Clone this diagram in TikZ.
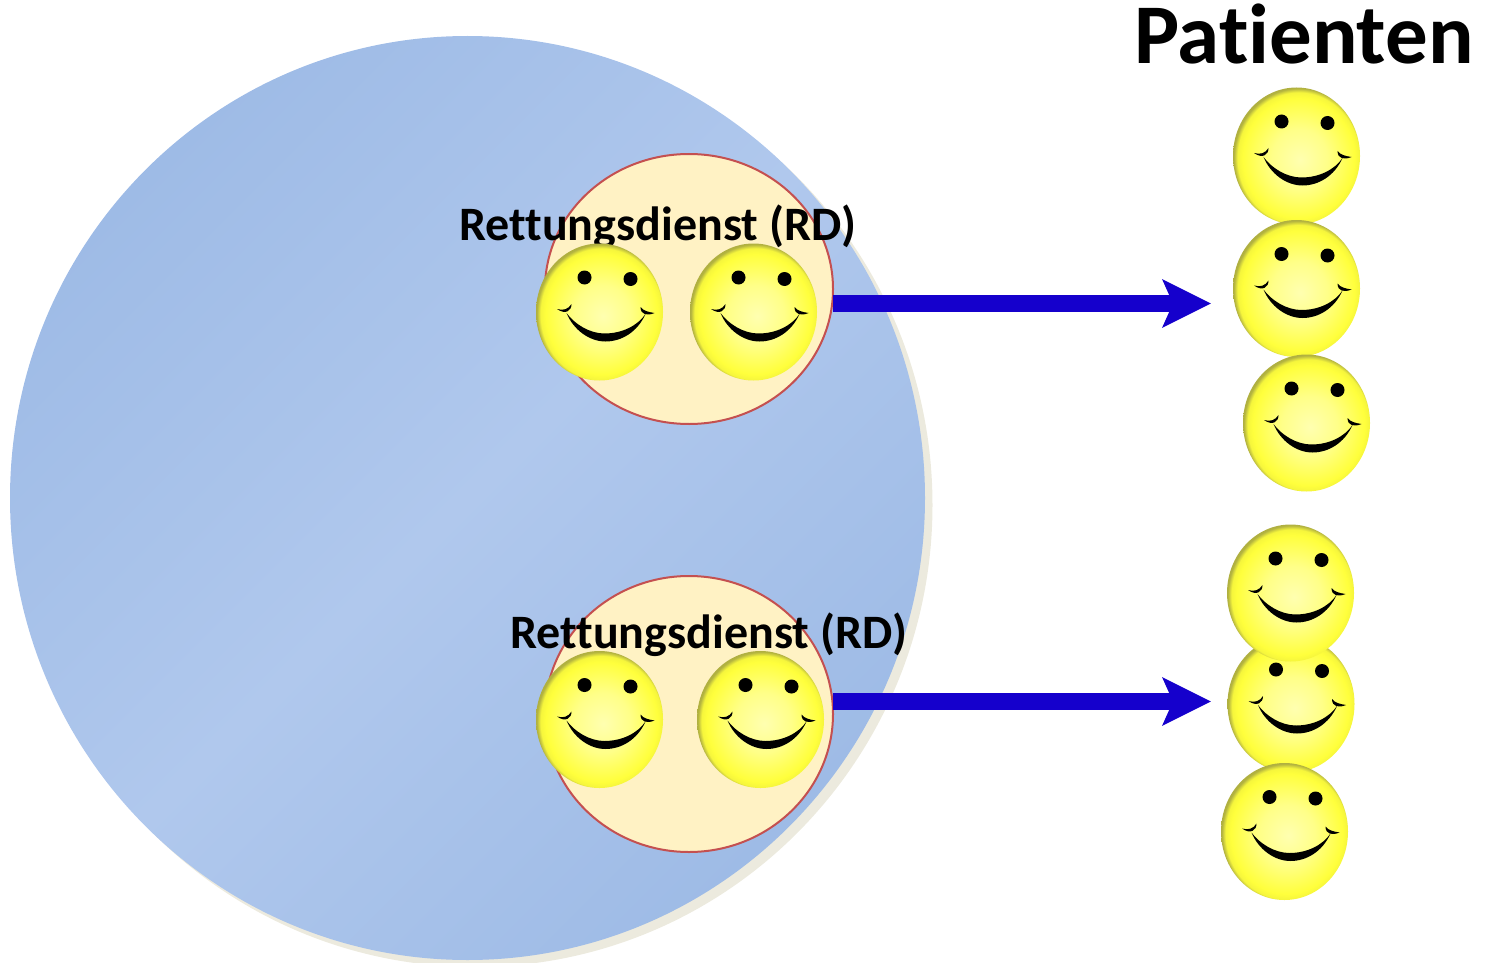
\documentclass[tikz,border=0pt]{standalone}
\usepackage{fontspec}
\setmainfont{Carlito}[RawFeature={-liga;-clig}]
\usetikzlibrary{arrows.meta,shapes.geometric}

\definecolor{kreisdunkel}{RGB}{158,187,230}
\definecolor{kreishell}{RGB}{176,200,237}
\definecolor{kreisschatten}{RGB}{236,234,222}
\definecolor{rdfill}{RGB}{255,242,196}
\definecolor{rdrand}{RGB}{196,80,80}
\definecolor{pfeilblau}{RGB}{21,0,204}
\definecolor{facemitte}{RGB}{255,255,176}
\definecolor{facehell}{RGB}{255,255,136}
\definecolor{facegelb}{RGB}{255,255,60}
\definecolor{facerand}{RGB}{176,176,64}

\pgfdeclareradialshading{faceshade}{\pgfpoint{1.5bp}{-1.5bp}}{
  color(0bp)=(facemitte);
  color(11bp)=(facehell);
  color(22bp)=(facegelb);
  color(24bp)=(facegelb!88!facerand);
  color(25.5bp)=(facerand);
  color(50bp)=(facerand)}

\tikzset{
  bigcircle/.style={ellipse,inner sep=0pt,outer sep=0pt,minimum width=915pt,minimum height=924pt},
  rdcircle/.style={ellipse,inner sep=0pt,outer sep=0pt,minimum width=288pt,fill=rdfill,draw=rdrand,line width=2pt},
  rdlabel/.style={anchor=base west,inner sep=0pt,font=\fontsize{48}{54}\selectfont\bfseries},
  flow/.style={draw=pfeilblau,line width=17pt,-{Stealth[length=48pt,width=47pt,inset=10pt,fill=pfeilblau]}},
  face/.style={ellipse,inner sep=0pt,outer sep=0pt,minimum width=127pt,minimum height=137pt,shading=faceshade,
    path picture={
      \begin{scope}[shift={(path picture bounding box.center)}]
        \fill (-15,-34.5) circle (7);
        \fill (31,-33) circle (7);
        % mouth
        \fill (-33,1) .. controls (-26,18) and (-10,29.5) .. (6,29.5)
          .. controls (22,29.5) and (38,20) .. (46,2)
          .. controls (38,14) and (22,21.5) .. (5,21.5)
          .. controls (-10,21.5) and (-25,12) .. (-33,1) -- cycle;
        % cheeks
        \fill (-42.5,-3) .. controls (-36,-1) and (-31,-3) .. (-28,-8)
          .. controls (-28,-1) and (-34,3) .. (-42.5,-3) -- cycle;
        \fill (41,-5) .. controls (44,-1) and (49,0) .. (55,1)
          .. controls (48,4) and (41,3) .. (41,-5) -- cycle;
      \end{scope}}},
}

\begin{document}
\begin{tikzpicture}[x=1pt,y=-1pt]
\clip (0,0) rectangle (1486,963);

% big circle
\node[bigcircle,fill=kreisschatten] (schatten) at (475,505) {};
\node[bigcircle,top color=kreisdunkel,bottom color=kreisdunkel,middle color=kreishell,shading angle=45] (gebiet) at (467.5,498) {};

\node[rdcircle,minimum height=270pt] (rdoben) at (689,289) {};
\node[rdcircle,minimum height=276pt] (rdunten) at (689,714) {};

\node[rdlabel] (textoben) at (459,240) {Rettungsdienst (RD)};
\node[rdlabel] (textunten) at (510,648) {Rettungsdienst (RD)};
\node[anchor=base west,inner sep=0pt,font=\fontsize{85}{92}\selectfont\bfseries] (titel) at (1134,64) {Patienten};

\coordinate (spitzeoben) at (1211,303.5);
\coordinate (spitzeunten) at (1211,701.5);
\draw[flow] (rdoben.east |- spitzeoben) -- (spitzeoben);
\draw[flow] (rdunten.east |- spitzeunten) -- (spitzeunten);

\node[face] (rd1) at (599.5,312) {};
\node[face] (rd2) at (753.5,312) {};
\node[face] (rd3) at (599.5,719.5) {};
\node[face] (rd4) at (760.5,719.5) {};

\node[face] (p1) at (1296.5,156) {};
\node[face] (p2) at (1296.5,288.5) {};
\node[face] (p3) at (1306.5,423) {};
\node[face] (p5) at (1291,704) {};
\node[face] (p4) at (1290.5,593) {};
\node[face] (p6) at (1284.5,831.5) {};
\end{tikzpicture}
\end{document}
